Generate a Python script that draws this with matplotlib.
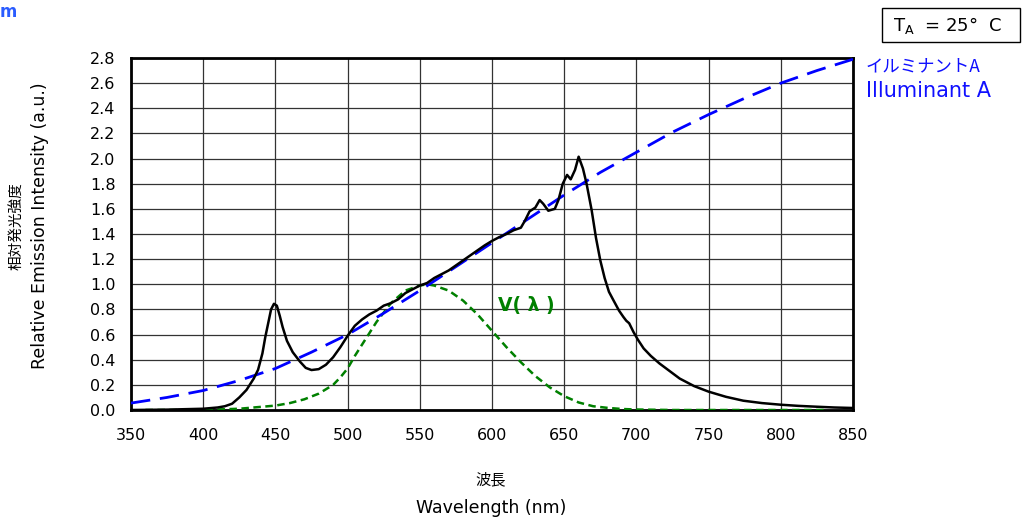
import matplotlib
matplotlib.use('Agg')
import matplotlib.pyplot as plt
from matplotlib.patches import Rectangle

# Emission spectrum (black)
wl = [350, 375, 400, 410, 415, 420, 425, 430, 435, 438, 441, 443, 445, 447,
      449, 451, 453, 455, 458, 462, 467, 471, 475, 480, 485, 490, 495, 500,
      505, 510, 515, 520, 525, 530, 535, 540, 545, 550, 555, 560, 565, 570,
      575, 580, 585, 590, 595, 600, 605, 610, 615, 620, 623, 626, 630, 633,
      635.5, 639, 643.5, 646, 649, 652, 654.5, 657.5, 660, 663, 665.5, 669,
      672, 675, 678, 681, 684, 688, 691, 693, 695, 698, 701, 705, 710, 716,
      723, 730, 740, 750, 762, 774, 787, 800, 812, 825, 837, 850]
intensity = [0.0, 0.003, 0.01, 0.02, 0.03, 0.05, 0.10, 0.16, 0.25, 0.32, 0.45,
             0.58, 0.69, 0.80, 0.845, 0.83, 0.75, 0.66, 0.55, 0.46, 0.385,
             0.335, 0.318, 0.325, 0.36, 0.42, 0.50, 0.59, 0.67, 0.72, 0.76,
             0.79, 0.83, 0.85, 0.88, 0.93, 0.96, 0.99, 1.01, 1.05, 1.08, 1.11,
             1.15, 1.19, 1.23, 1.27, 1.31, 1.345, 1.375, 1.40, 1.43, 1.45,
             1.51, 1.58, 1.61, 1.67, 1.64, 1.585, 1.60, 1.67, 1.80, 1.87,
             1.835, 1.91, 2.015, 1.92, 1.80, 1.59, 1.37, 1.19, 1.05, 0.94,
             0.875, 0.79, 0.74, 0.71, 0.69, 0.62, 0.56, 0.49, 0.43, 0.37,
             0.31, 0.25, 0.19, 0.146, 0.105, 0.074, 0.055, 0.042, 0.033,
             0.026, 0.02, 0.016]

# Illuminant A (blue dashed)
wl_a = [350, 375, 400, 425, 450, 475, 500, 525, 550, 575, 600, 625, 650,
        675, 700, 725, 750, 775, 800, 825, 850]
illum_a = [0.055, 0.10, 0.155, 0.235, 0.33, 0.46, 0.60, 0.77, 0.95, 1.14,
           1.33, 1.52, 1.71, 1.89, 2.05, 2.21, 2.35, 2.48, 2.60, 2.70, 2.79]

# V(lambda) (green dotted)
wl_v = [360, 400, 425, 440, 450, 460, 470, 480, 490, 495, 500, 505, 510, 520,
        530, 540, 550, 555, 560, 570, 580, 590, 600, 610, 620, 630, 640, 650,
        660, 670, 680, 690, 700, 725, 830]
v_lambda = [0.0, 0.0005, 0.01, 0.025, 0.035, 0.055, 0.085, 0.13, 0.20, 0.26,
            0.33, 0.43, 0.52, 0.70, 0.85, 0.95, 0.99, 1.0, 0.99, 0.95, 0.87,
            0.76, 0.63, 0.50, 0.38, 0.27, 0.18, 0.11, 0.06, 0.03, 0.017,
            0.008, 0.004, 0.0, 0.0]

xticks = [350, 400, 450, 500, 550, 600, 650, 700, 750, 800, 850]
yticks = [0.0, 0.2, 0.4, 0.6, 0.8, 1.0, 1.2, 1.4, 1.6, 1.8, 2.0, 2.2, 2.4, 2.6, 2.8]

JP = ['Noto Sans CJK JP', 'DejaVu Sans']

fig = plt.figure(figsize=(10.22, 5.18), dpi=100)
ax = fig.add_axes([131 / 1022, 1 - 410 / 518, 722 / 1022, 352 / 518])

ax.plot(wl_v, v_lambda, color='green', lw=1.8, dashes=(3.0, 1.8), zorder=3)
ax.plot(wl_a, illum_a, color='blue', lw=2.0, dashes=(7, 3.5), zorder=4)
ax.plot(wl, intensity, color='black', lw=1.8, zorder=5)

ax.set_xlim(350, 850)
ax.set_ylim(0, 2.8)
ax.set_xticks(xticks)
ax.set_yticks(yticks)
ax.set_yticklabels(['%.1f' % v for v in yticks])
ax.tick_params(length=0, labelsize=11.5)
ax.tick_params(axis='x', pad=13)
ax.tick_params(axis='y', pad=11)
ax.grid(True, color='#333333', lw=0.9)
ax.set_axisbelow(True)
for s in ax.spines.values():
    s.set_linewidth(2)

ax.text(604, 0.83, 'V( λ )', color='green', fontsize=13.5, fontweight='bold',
        va='center', ha='left')

# axis titles
fig.text(17 / 1022, 1 - 226 / 518, '相対発光強度', rotation=90, ha='center',
         va='center', fontsize=10.5, family=JP)
fig.text(40 / 1022, 1 - 226 / 518, 'Relative Emission Intensity (a.u.)',
         rotation=90, ha='center', va='center', fontsize=12.5)
fig.text(491 / 1022, 1 - 480 / 518, '波長', ha='center', va='center',
         fontsize=11, family=JP)
fig.text(491 / 1022, 1 - 508 / 518, 'Wavelength (nm)', ha='center',
         va='center', fontsize=12.5)

# Illuminant A label
fig.text(866 / 1022, 1 - 66 / 518, 'イルミナントA', ha='left', va='center',
         fontsize=12.5, color='#1010ff', family=JP)
fig.text(866 / 1022, 1 - 91 / 518, 'Illuminant A', ha='left', va='center',
         fontsize=15, color='#1010ff')

# T_A box
fig.patches.append(Rectangle((882 / 1022, 1 - 42 / 518), 138 / 1022, 34 / 518,
                             transform=fig.transFigure, fill=False,
                             edgecolor='black', lw=1))
fig.text(948 / 1022, 1 - 25 / 518, r'T$_\mathregular{A}$  = 25°  C',
         ha='center', va='center', fontsize=13)

fig.text(0, 1 - 12 / 518, 'm', ha='left', va='center', fontsize=12,
         fontweight='bold', color='#2a5cff')

fig.savefig('out.png', dpi=100)
